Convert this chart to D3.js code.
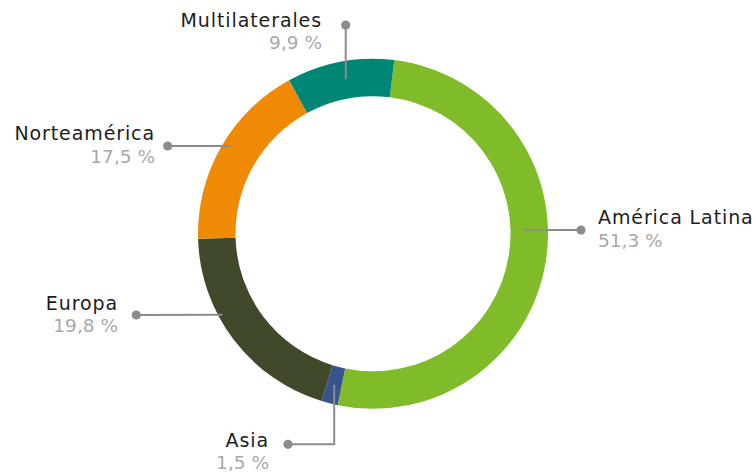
<!DOCTYPE html>
<html><head><meta charset="utf-8">
<script src="https://cdn.jsdelivr.net/npm/d3@7"></script>
<style>html,body{margin:0;padding:0;background:#fff;}svg{display:block;}</style>
</head><body>
<svg id="chart" width="756" height="476"></svg>
<script>
// ---- data ----
const categories = ["América Latina", "Asia", "Europa", "Norteamérica", "Multilaterales"];
const values = [51.3, 1.5, 19.8, 17.5, 9.9];
const valueLabels = ["51,3 %", "1,5 %", "19,8 %", "17,5 %", "9,9 %"];
const colors = ["#80bc29", "#38548f", "#41492b", "#f08a04", "#008675"];

// ---- layout (annotation placement) ----
// leader start: angle (deg, clockwise from top) & radius on ring; dot offset from center; label anchor offset from center
const leaders = [
  {a: 88.6, r: 151, dot: [208, -3.8], elbow: false, anchor: "start", tx: 225, ty: -9.8},
  {a: 194.4, r: 156, dot: [-85, 210.5], elbow: true, anchor: "end", tx: -104, ty: 213},
  {a: 241.7, r: 171, dot: [-236.7, 81.2], elbow: false, anchor: "end", tx: -255, ty: 76.2},
  {a: 301.7, r: 167, dot: [-205.3, -87.8], elbow: false, anchor: "end", tx: -218, ty: -93.8},
  {a: 350, r: 157, dot: [-27.3, -208.8], elbow: false, anchor: "end", tx: -51, ty: -207}
];

const W = 756, H = 476;
const cx = 373, cy = 233.8, R = 175, r0 = 137.5;
const svg = d3.select("#chart");
const g = svg.append("g").attr("transform", `translate(${cx},${cy})`);

const startA = 7 * Math.PI / 180;
const pie = d3.pie().sort(null).value(d => d).startAngle(startA).endAngle(startA + 2 * Math.PI);
const arc = d3.arc().innerRadius(r0).outerRadius(R);

g.selectAll("path.slice").data(pie(values)).join("path")
  .attr("class", "slice")
  .attr("d", arc)
  .attr("fill", (d, i) => colors[i]);

const lineColor = "#8c8c8c";
const pt = (a, r) => { const t = a * Math.PI / 180; return [r * Math.sin(t), -r * Math.cos(t)]; };

leaders.forEach((L, i) => {
  const p0 = pt(L.a, L.r);
  const pts = [p0];
  if (L.elbow) pts.push([p0[0], L.dot[1]]);
  pts.push(L.dot);
  g.append("path")
    .attr("d", d3.line()(pts))
    .attr("fill", "none").attr("stroke", lineColor).attr("stroke-width", 2);
  g.append("circle").attr("cx", L.dot[0]).attr("cy", L.dot[1]).attr("r", 4.6).attr("fill", lineColor);
  const t = g.append("text").attr("text-anchor", L.anchor)
    .attr("font-family", "'DejaVu Sans', sans-serif");
  t.append("tspan").attr("x", L.tx).attr("y", L.ty)
    .attr("font-size", 19).attr("letter-spacing", 0.9).attr("fill", "#1d1d1b")
    .text(categories[i]);
  t.append("tspan").attr("x", L.tx).attr("y", L.ty + 22.5)
    .attr("font-size", 18.5).attr("fill", "#a8a8a8")
    .text(valueLabels[i]);
});
</script>
</body></html>
